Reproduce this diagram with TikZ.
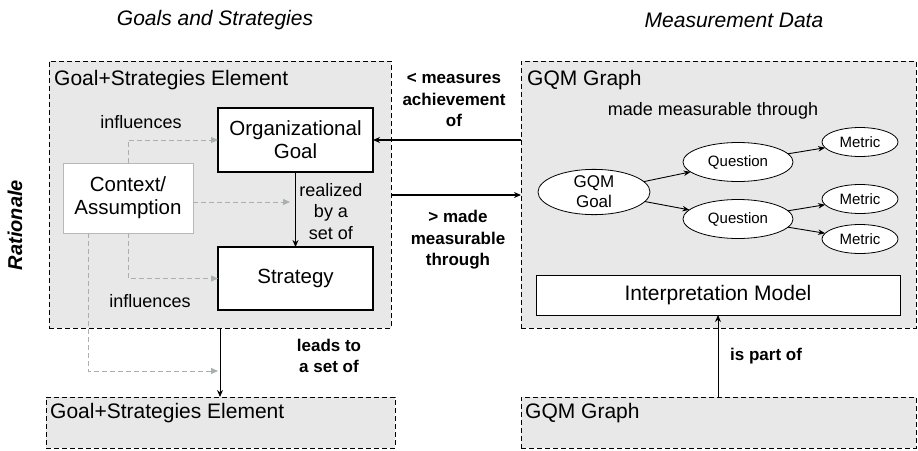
\documentclass[tikz,border=0pt]{standalone}
\usepackage{fontspec}
\setmainfont{Liberation Sans}
\usetikzlibrary{arrows.meta,shapes.geometric,calc}
\definecolor{boxfill}{HTML}{E8E8E8}
\definecolor{infl}{HTML}{A8B0B0}
\definecolor{ctxline}{HTML}{B8B8B8}
\begin{document}
\begin{tikzpicture}[x=1pt,y=-1pt,
  container/.style={draw=black, dash pattern=on 5pt off 3pt, line width=1pt, fill=boxfill, inner sep=0pt, outer sep=0pt},
  solidbox/.style={draw=black, line width=1.2pt, fill=white, inner sep=0pt, outer sep=0pt, align=center, font=\fontsize{20.5}{23}\selectfont},
  ctxbox/.style={draw=ctxline, line width=1pt, fill=white, inner sep=0pt, outer sep=0pt, align=center, font=\fontsize{20.5}{23}\selectfont},
  oval/.style={ellipse, draw=black, line width=0.8pt, fill=white, inner sep=0pt, outer sep=0pt, align=center},
  lbl/.style={font=\fontsize{18}{21.5}\selectfont, align=center, inner sep=0pt},
  blbl/.style={font=\bfseries\fontsize{17}{21.5}\selectfont, align=center, inner sep=0pt},
  hdr/.style={font=\fontsize{21}{24}\selectfont, anchor=west, inner sep=0pt},
  ttl/.style={font=\itshape\fontsize{21}{24}\selectfont, inner sep=0pt},
  arr/.style={-{Stealth[length=7pt,width=6pt]}, line width=1.2pt},
  thinarr/.style={-{Stealth[length=7pt,width=5.5pt]}, line width=0.9pt},
  infarr/.style={-{Triangle[length=7pt,width=6pt,fill=infl]}, draw=infl, dash pattern=on 5pt off 3pt, line width=1pt}
]
\useasboundingbox (0,0) rectangle (918,450);

% titles
\node[ttl] (t1) at (215,20) {Goals and Strategies};
\node[ttl] (t2) at (734,20) {Measurement Data};
\node[rotate=90, font=\bfseries\itshape\fontsize{20}{24}\selectfont, inner sep=0pt] (rat) at (15,225) {Rationale};

% containers
\node[container, minimum width=342pt, minimum height=267pt] (lbox) at (220,194.5) {};
\node[container, minimum width=395pt, minimum height=267pt] (rbox) at (718.5,194.5) {};
\node[container, minimum width=349pt, minimum height=51pt] (gs2) at (220.5,422.5) {};
\node[container, minimum width=395pt, minimum height=51pt] (gq2) at (718.5,422.5) {};

\node[hdr] (h1) at (54,80) {Goal+Strategies Element};
\node[hdr] (h2) at (527,80) {GQM Graph};
\node[hdr] (h3) at (50,413) {Goal+Strategies Element};
\node[hdr] (h4) at (525,413) {GQM Graph};

% left inner boxes
\node[solidbox, minimum width=155pt, minimum height=64pt] (og) at (295.5,140) {Organizational\\Goal};
\node[solidbox, minimum width=155pt, minimum height=63pt] (st) at (295.5,278.5) {Strategy};
\node[ctxbox, minimum width=130pt, minimum height=70pt] (ca) at (128,198) {Context/\\Assumption};

% left labels
\node[lbl] (inf1) at (141,122) {influences};
\node[lbl] (inf2) at (150,301) {influences};
\node[lbl] (real) at (331,211.5) {realized\\by a\\set of};
\node[blbl] (leads) at (329,356) {leads to\\a set of};

% middle labels
\node[blbl] (meas) at (454,100) {< measures\\achievement\\of};
\node[blbl] (made) at (458,240) {> made\\measurable\\through};

% influence arrows (grey dashed)
\coordinate (c2end) at (290,202);
\coordinate (c4start) at (88,233);
\coordinate (c4end) at (218,371);
\draw[infarr] (ca.north) |- (og.west);
\draw[infarr] (ca.east |- c2end) -- (c2end);
\draw[infarr] (ca.south) |- (st.west);
\draw[infarr] (c4start) |- (c4end);

% black arrows left
\draw[arr, line width=1pt] (og.south) -- (st.north);
\coordinate (lt) at (220,328);
\draw[arr, line width=1pt] (lt) -- (lt |- gs2.north);

% cross arrows
\coordinate (my2) at (0,195);
\draw[arr, line width=1.6pt] (rbox.west |- og.east) -- (og.east);
\draw[arr, line width=1.6pt] (lbox.east |- my2) -- (rbox.west |- my2);

% GQM graph
\node[lbl] (mmt) at (713,111) {made measurable through};
\node[oval, minimum width=112pt, minimum height=43pt, font=\fontsize{17}{20}\selectfont] (gg) at (594,192) {GQM\\Goal};
\node[oval, minimum width=110pt, minimum height=39pt, font=\fontsize{15}{18}\selectfont] (q1) at (738,162) {Question};
\node[oval, minimum width=110pt, minimum height=39pt, font=\fontsize{15}{18}\selectfont] (q2) at (738,219) {Question};
\node[oval, minimum width=76pt, minimum height=29pt, font=\fontsize{15}{18}\selectfont] (m1) at (860,142) {Metric};
\node[oval, minimum width=76pt, minimum height=29pt, font=\fontsize{15}{18}\selectfont] (m2) at (860,199) {Metric};
\node[oval, minimum width=76pt, minimum height=29pt, font=\fontsize{15}{18}\selectfont] (m3) at (860,239) {Metric};
\draw[thinarr] (gg) -- (q1);
\draw[thinarr] (gg) -- (q2);
\draw[thinarr] (q1) -- (m1);
\draw[thinarr] (q2) -- (m2);
\draw[thinarr] (q2) -- (m3);

\node[solidbox, line width=1pt, minimum width=364pt, minimum height=40pt, font=\fontsize{21}{24}\selectfont] (im) at (718,295) {Interpretation Model};
\draw[arr, line width=1pt] (gq2.north -| im.south) -- (im.south);
\node[blbl, anchor=west] (ipo) at (730,356) {is part of};
\end{tikzpicture}
\end{document}
